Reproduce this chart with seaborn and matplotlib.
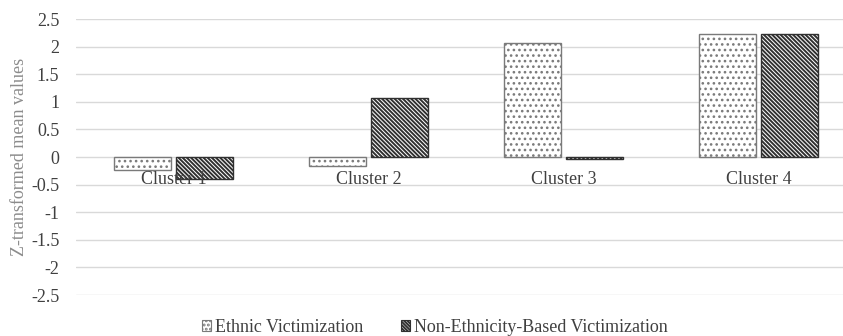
import matplotlib
matplotlib.use("Agg")
import matplotlib.pyplot as plt
from matplotlib.patches import Patch
import pandas as pd
import seaborn as sns

# Cluster profiles: z-transformed mean values of the two victimization types
clusters = ["Cluster 1", "Cluster 2", "Cluster 3", "Cluster 4"]
ethnic = [-0.24, -0.17, 2.06, 2.23]
non_ethnic = [-0.39, 1.06, -0.04, 2.23]
series = ["Ethnic Victimization", "Non-Ethnicity-Based Victimization"]
yticks = [2.5, 2, 1.5, 1, 0.5, 0, -0.5, -1, -1.5, -2, -2.5]
ytick_labels = ["2.5", "2", "1.5", "1", "0.5", "0", "-0.5", "-1", "-1.5", "-2", "-2.5"]

sns.set_style("white")
plt.rcParams["font.family"] = ["Liberation Serif", "DejaVu Serif"]
plt.rcParams["hatch.linewidth"] = 1.4

df = pd.DataFrame({
    "cluster": clusters * 2,
    "value": ethnic + non_ethnic,
    "series": [series[0]] * len(clusters) + [series[1]] * len(clusters),
})

W, H = 843, 336
fig = plt.figure(figsize=(W / 100, H / 100), dpi=100)
ax = fig.add_axes([76 / W, 41 / H, 780 / W, 276 / H])

sns.barplot(data=df, x="cluster", y="value", hue="series", hue_order=series,
            palette=["white", "white"], width=0.63, gap=0.07,
            linewidth=1.0, legend=False, ax=ax)

# dotted fill for ethnic, dense downward diagonals for non-ethnic
hatches = ["...", "\\" * 8]
edges = ["#7a7a7a", "#303030"]
hatch_lw = [1.1, 1.4]
for cont, h, ec, hlw in zip(ax.containers, hatches, edges, hatch_lw):
    for bar in cont:
        bar.set_hatch(h)
        bar.set_edgecolor(ec)
        bar.set_facecolor("white")
        bar.set_zorder(1)
        if hasattr(bar, "_hatch_linewidth"):
            bar._hatch_linewidth = hlw

ax.set_ylim(-2.5, 2.5)
ax.set_xlim(-0.5, 3.5)
ax.set_yticks(yticks)
ax.set_yticklabels(ytick_labels)
ax.yaxis.grid(True, color="#d9d9d9", linewidth=1.0)
ax.set_axisbelow(True)
for s in ax.spines.values():
    s.set_visible(False)

ax.tick_params(axis="y", length=0, pad=12, labelsize=13, labelcolor="#404040")
ax.tick_params(axis="x", length=0, pad=10, labelsize=13, labelcolor="#404040")
ax.spines["bottom"].set_position(("data", 0))
ax.xaxis.set_zorder(4)
ax.set_xlabel("")
ax.set_ylabel("Z-transformed mean values", fontsize=13, color="#8c8c8c", labelpad=2)

handles = [Patch(facecolor="white", edgecolor=ec, hatch=h, linewidth=0.8)
           for h, ec in zip(["....", "\\" * 10], edges)]
ax.legend(handles, series, loc="center", bbox_to_anchor=(0.46, -0.117),
          ncol=2, frameon=False, fontsize=13, labelcolor="#404040",
          handlelength=0.5, handleheight=0.5, handletextpad=0.2,
          columnspacing=2.1, borderaxespad=0)

fig.savefig("out.png", dpi=100)
